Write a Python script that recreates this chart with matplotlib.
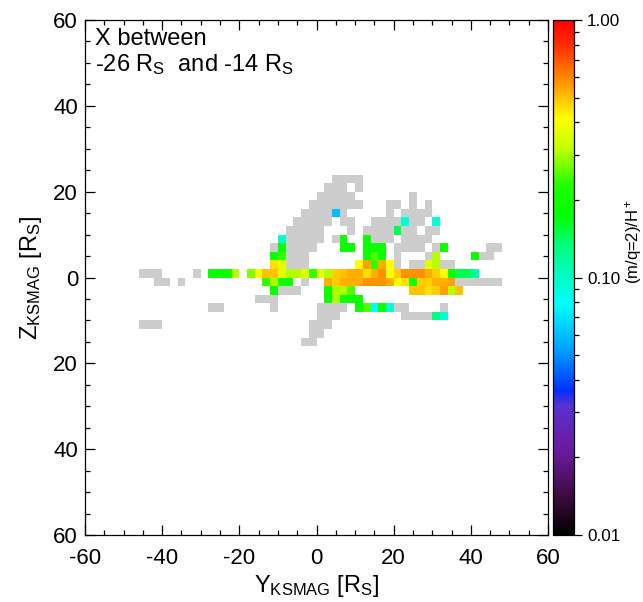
import numpy as np
import matplotlib
matplotlib.use("Agg")
import matplotlib.pyplot as plt
from matplotlib.colors import LinearSegmentedColormap, ListedColormap, LogNorm
from matplotlib.ticker import MultipleLocator, FuncFormatter

plt.rcParams["font.family"] = ["Liberation Sans", "DejaVu Sans"]
plt.rcParams["mathtext.fontset"] = "custom"
plt.rcParams["mathtext.rm"] = "Liberation Sans"
plt.rcParams["mathtext.it"] = "Liberation Sans:italic"
plt.rcParams["mathtext.bf"] = "Liberation Sans:bold"
plt.rcParams["axes.unicode_minus"] = False

# ratio (m/q=2)/H+ per class letter
ratio_classes = {
    "b": 0.060, "c": 0.079, "a": 0.095, "q": 0.116, "r": 0.132, "s": 0.146,
    "G": 0.19, "H": 0.237, "I": 0.252, "J": 0.278, "K": 0.30, "L": 0.31,
    "M": 0.363, "Y": 0.417, "Z": 0.457, "D": 0.479, "O": 0.50, "P": 0.525,
    "Q": 0.55, "R": 0.576,
}

# 2 R_S cells, Y from -60 to 60 (groups of 10 cells), first row is Z = 24..22
# '.' = empty, '#' = sampled but no ratio (grey)
z_top = 24
cell_size = 2
rows = [
    ".......... .......... .......... ..####.... .......... ..........",
    ".......... .......... .......... .###.#.... .......... ..........",
    ".......... .......... .......... #####..... ..#....... ..........",
    ".......... .......... .........# ######...# #.#.#..... ..........",
    ".......... .......... ........## ##b#.....# .####..... ..........",
    ".......... .......... .......### ##.##..### #a##.a.... ..........",
    ".......... .......... ......#### #...#.#### s##.##.... ..........",
    ".......... .......... .....a#### #.#G..G### .####..... ..........",
    ".......... .......... ....#G#### ...GG.GGG. ####.#G... ..##......",
    ".......... .......... ....GH###. ......GIG. #...#L.... G##.......",
    ".......... .......... ....ZM###. .....YQHPY #.##ML##.. ..........",
    ".......### ....#.GGGL .JYOOMLLMH MLDOPPZPRY DRRRPDYGss q.........",
    ".........# #.#....... ...HKGG.#. .PDPPPRRRP YZGDDPPQ## ####......",
    ".......... .......... ....G###.. .GKLI..... ..OOZDQLO. ..........",
    ".......... .......... ..###..... .GKGGG.... .......... ..........",
    ".......... ......##.. ....#..... ####.GIcGa ##....#... ..........",
    ".......... .......... .......... ###....... .####ra... ..........",
    ".......### .......... .........# ##........ .......... ..........",
    ".......... .......... .........# #......... .......... ..........",
    ".......... .......... ........## .......... .......... ..........",
]

ratio = np.full((len(rows), 60), np.nan)
grey = np.full((len(rows), 60), np.nan)
for i, row in enumerate(rows):
    for k, ch in enumerate(row.replace(" ", "")):
        if ch == "#":
            grey[i, k] = 1
        elif ch != ".":
            ratio[i, k] = ratio_classes[ch]

y_edges = np.arange(-60, 60 + cell_size, cell_size)
z_edges = z_top - cell_size * np.arange(len(rows) + 1)

# IDL-like rainbow
cmap = LinearSegmentedColormap.from_list("idl_rainbow", [
    (0.00, "#000000"), (0.07, "#3a0a3a"), (0.16, "#6a1a9a"), (0.25, "#5a30d0"),
    (0.28, "#0030ff"), (0.36, "#00a0ff"), (0.45, "#00ffff"), (0.56, "#00ff80"),
    (0.62, "#00ff00"), (0.68, "#20ff00"), (0.75, "#c0ff00"), (0.81, "#ffff00"),
    (0.87, "#ffa000"), (0.95, "#ff3000"), (1.00, "#ff0000"),
], N=512)
norm = LogNorm(vmin=0.01, vmax=1.0)

fig = plt.figure(figsize=(6.43, 6.02), dpi=100)
ax = fig.add_axes([85 / 643, 1 - 535 / 602, 463 / 643, 515 / 602])

ax.pcolormesh(y_edges, z_edges, np.ma.masked_invalid(grey),
              cmap=ListedColormap(["#cdcdcd"]), vmin=0, vmax=2)
mesh = ax.pcolormesh(y_edges, z_edges, np.ma.masked_invalid(ratio),
                     cmap=cmap, norm=norm)

ax.set_xlim(-60, 60)
ax.set_ylim(-60, 60)
ax.xaxis.set_major_locator(MultipleLocator(20))
ax.xaxis.set_minor_locator(MultipleLocator(5))
ax.yaxis.set_major_locator(MultipleLocator(20))
ax.yaxis.set_minor_locator(MultipleLocator(5))
ax.yaxis.set_major_formatter(FuncFormatter(lambda v, p: f"{abs(v):.0f}"))
ax.tick_params(which="both", direction="in", top=True, right=True,
               labelsize=16, width=0.9, colors="black")
ax.tick_params(which="major", length=7)
ax.tick_params(which="minor", length=3.5)
ax.tick_params(axis="x", pad=9)
ax.tick_params(axis="y", pad=5)
for sp in ax.spines.values():
    sp.set_linewidth(0.9)

ax.set_xlabel(r"Y$_\mathregular{KSMAG}$ [R$_\mathregular{S}$]", fontsize=17, labelpad=3)
ax.set_ylabel(r"Z$_\mathregular{KSMAG}$ [R$_\mathregular{S}$]", fontsize=17, labelpad=7)

ax.text(0.022, 0.985,
        "X between\n-26 R$_\\mathregular{S}$  and -14 R$_\\mathregular{S}$",
        transform=ax.transAxes, ha="left", va="top", fontsize=17,
        linespacing=1.15)

cax = fig.add_axes([553 / 643, 1 - 535 / 602, 21 / 643, 515 / 602])
cb = fig.colorbar(mesh, cax=cax)
cb.set_ticks([0.01, 0.1, 1.0])
cb.set_ticklabels(["0.01", "0.10", "1.00"])
cb.outline.set_linewidth(0.9)
cax.tick_params(which="both", direction="out", labelsize=12.3, width=0.9, pad=3.5)
cax.tick_params(which="major", length=6)
cax.tick_params(which="minor", length=3.5)

fig.text(634 / 643, 1 - 242 / 602, r"(m/q=2)/H$^+$", rotation=90,
         ha="center", va="center", fontsize=12)

fig.savefig("out.png", dpi=100)
